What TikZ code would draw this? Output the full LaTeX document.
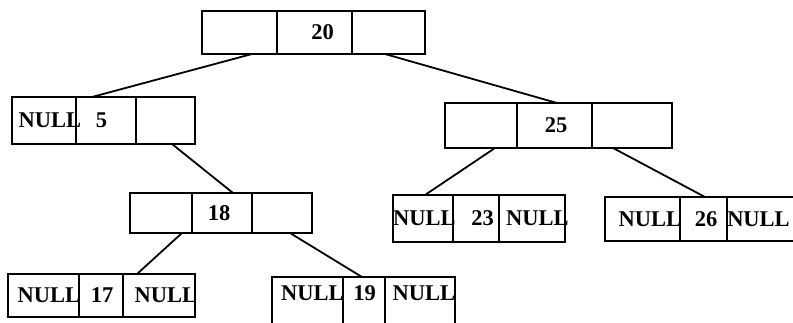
\documentclass[tikz,border=0pt]{standalone}
\usepackage{fontspec}
\setmainfont{Liberation Serif}
\usetikzlibrary{positioning}
\begin{document}
\begin{tikzpicture}[x=1pt,y=-1pt,
  cell/.style={draw, line width=1.8pt, outer sep=0pt, inner sep=0pt, anchor=north west},
  lbl/.style={inner sep=0pt, font=\fontsize{22.5}{26}\bfseries\selectfont},
  link/.style={line width=1.8pt}]
\clip (0,0) rectangle (793,322);
% root 20
\node[cell, minimum width=75pt, minimum height=43pt] (rL) at (202,11) {};
\node[cell, minimum width=75pt, minimum height=43pt] (rM) at (rL.north east) {};
\node[cell, minimum width=73pt, minimum height=43pt] (rR) at (rM.north east) {};
% 5
\node[cell, minimum width=64pt, minimum height=47pt] (aL) at (12,97) {};
\node[cell, minimum width=60pt, minimum height=47pt] (aM) at (aL.north east) {};
\node[cell, minimum width=59pt, minimum height=47pt] (aR) at (aM.north east) {};
% 25
\node[cell, minimum width=72pt, minimum height=45pt] (bL) at (445,103) {};
\node[cell, minimum width=75pt, minimum height=45pt] (bM) at (bL.north east) {};
\node[cell, minimum width=80pt, minimum height=45pt] (bR) at (bM.north east) {};
% 18
\node[cell, minimum width=62pt, minimum height=40pt] (cL) at (130,193) {};
\node[cell, minimum width=60pt, minimum height=40pt] (cM) at (cL.north east) {};
\node[cell, minimum width=60pt, minimum height=40pt] (cR) at (cM.north east) {};
% 23
\node[cell, minimum width=60pt, minimum height=47pt] (dL) at (393,195) {};
\node[cell, minimum width=46pt, minimum height=47pt] (dM) at (dL.north east) {};
\node[cell, minimum width=66pt, minimum height=47pt] (dR) at (dM.north east) {};
% 26
\node[cell, minimum width=75pt, minimum height=44pt] (eL) at (605,197) {};
\node[cell, minimum width=47pt, minimum height=44pt] (eM) at (eL.north east) {};
\node[cell, minimum width=72pt, minimum height=44pt] (eR) at (eM.north east) {};
% 17
\node[cell, minimum width=71pt, minimum height=43pt] (fL) at (8,274) {};
\node[cell, minimum width=44pt, minimum height=43pt] (fM) at (fL.north east) {};
\node[cell, minimum width=72pt, minimum height=43pt] (fR) at (fM.north east) {};
% 19
\node[cell, minimum width=71pt, minimum height=52pt] (gL) at (272,277) {};
\node[cell, minimum width=42pt, minimum height=52pt] (gM) at (gL.north east) {};
\node[cell, minimum width=70pt, minimum height=52pt] (gR) at (gM.north east) {};
% labels
\node[lbl] (t20) at (322.5,32) {20};
\node[lbl] (t5n) at (50,120.5) {NULL};
\node[lbl] (t5) at (101.5,120.5) {5};
\node[lbl] (t25) at (556,125.5) {25};
\node[lbl] (t18) at (219,213) {18};
\node[lbl] (t23a) at (424.5,218.5) {NULL};
\node[lbl] (t23) at (482.5,218.5) {23};
\node[lbl] (t23b) at (537.5,218.5) {NULL};
\node[lbl] (t26a) at (650,219) {NULL};
\node[lbl] (t26) at (706,219) {26};
\node[lbl] (t26b) at (758.5,219) {NULL};
\node[lbl] (t17a) at (49,295.5) {NULL};
\node[lbl] (t17) at (102,295.5) {17};
\node[lbl] (t17b) at (166,295.5) {NULL};
\node[lbl] (t19a) at (312.5,293.5) {NULL};
\node[lbl] (t19) at (364.5,293.5) {19};
\node[lbl] (t19b) at (424,293.5) {NULL};
% connectors
\draw[link] ([xshift=12.5pt]rL.south) -- ([xshift=-14pt]aM.north);
\draw[link] ([xshift=-3.5pt]rR.south) -- ([xshift=2.5pt]bM.north);
\draw[link] ([xshift=6.5pt]aR.south) -- ([xshift=11pt]cM.north);
\draw[link] ([xshift=14pt]bL.south) -- ([xshift=2pt]dL.north);
\draw[link] ([xshift=-19pt]bR.south) -- ([xshift=1.5pt]eM.north);
\draw[link] ([xshift=21pt]cL.south) -- ([xshift=-22pt]fR.north);
\draw[link] ([xshift=8pt]cR.south) -- ([xshift=-2pt]gM.north);
\end{tikzpicture}
\end{document}
